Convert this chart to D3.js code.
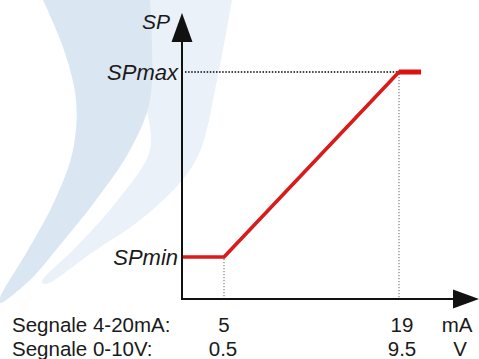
<!DOCTYPE html>
<html>
<head>
<meta charset="utf-8">
<script src="https://cdn.jsdelivr.net/npm/d3@7/dist/d3.min.js"></script>
<style>
  html, body { margin: 0; padding: 0; background: #fff; }
  svg { display: block; }
  text { font-family: Arial, "Liberation Sans", sans-serif; fill: #1a1a1a; }
</style>
</head>
<body>
<svg id="chart" width="479" height="359"></svg>
<script>
// ---- data ----
const curveMA = [1.64, 5, 19, 20.76];    // signal (mA) at the curve's corners
const curveSP = [0, 0, 1, 1];            // set-point (0 = SPmin, 1 = SPmax)
const tickMA = [5, 19];
const tickV = ["0.5", "9.5"];
const spLabels = ["SPmin", "SPmax"];
const spValues = [0, 1];
const rowLabels = ["Segnale 4-20mA:", "Segnale 0-10V:"];
const unitLabels = ["mA", "V"];
const axisTitle = "SP";

// ---- layout ----
const svg = d3.select("#chart");
const x = d3.scaleLinear().domain([1.64, 25.4]).range([182, 479]);
const y = d3.scaleLinear().domain([-0.227, 1.319]).range([299, 13]);

// background swoosh decoration
const bg = svg.append("g");
const swoosh = d3.line().curve(d3.curveCatmullRom.alpha(0.5));
const lightLeft = [[144,0],[146,100],[150,150],[118,200],[78,245],[42,282]];
const lightRight = [[46,284],[90,254],[150,212],[196,160],[217,80],[232,0]];
const darkOuter = [[43,0],[64,50],[76,100],[73,150],[55,200],[28,250],[0,298]];
const darkInner = [[0,303],[30,280],[60,245],[96,200],[130,150],[150,100],[150,0]];
bg.append("path").attr("d", swoosh(lightLeft.concat(lightRight)) + "Z")
  .attr("fill", "#ebf1f9");
bg.append("path").attr("d", swoosh(darkOuter.concat(darkInner)) + "Z")
  .attr("fill", "#dae6f2");

// dotted guides
const x0 = x.range()[0], y0 = y.range()[0];
svg.append("line")
  .attr("x1", x0 + 3).attr("x2", x(tickMA[1]))
  .attr("y1", y(spValues[1])).attr("y2", y(spValues[1]))
  .attr("stroke", "#000").attr("stroke-width", 1.4).attr("stroke-dasharray", "1.5,1.6");
tickMA.forEach((t, i) => {
  svg.append("line")
    .attr("x1", x(t)).attr("x2", x(t))
    .attr("y1", y(spValues[i]) + 2).attr("y2", y0 - 1)
    .attr("stroke", "#666").attr("stroke-width", 1).attr("stroke-dasharray", "1.2,1.8");
});

// curve
const pts = curveMA.map((m, i) => [x(m), y(curveSP[i])]);
svg.append("path")
  .attr("d", d3.line()(pts))
  .attr("fill", "none").attr("stroke", "#d81c1c")
  .attr("stroke-width", 3.6).attr("stroke-linejoin", "round");
svg.append("path")
  .attr("d", d3.line()(pts.slice(2)))
  .attr("fill", "none").attr("stroke", "#e01010").attr("stroke-width", 5);

// axes with arrows
svg.append("line").attr("x1", x0).attr("x2", x0).attr("y1", y0 + 1).attr("y2", 40)
  .attr("stroke", "#111").attr("stroke-width", 2);
svg.append("line").attr("x1", x0).attr("x2", 455).attr("y1", y0).attr("y2", y0)
  .attr("stroke", "#111").attr("stroke-width", 2);
svg.append("path").attr("d", `M${x0},${y.range()[1]} L${x0 + 10.5},42 L${x0 - 10.5},42 Z`)
  .attr("fill", "#111");
svg.append("path").attr("d", `M${x.range()[1]},${y0} L453,${y0 - 9.5} L453,${y0 + 9.5} Z`)
  .attr("fill", "#111");

// labels
svg.append("text").attr("x", 170).attr("y", 29).attr("text-anchor", "end")
  .attr("font-size", 21).attr("font-style", "italic").text(axisTitle);
spLabels.forEach((l, i) => {
  svg.append("text").attr("x", 178).attr("y", y(spValues[i]) + 8)
    .attr("text-anchor", "end").attr("font-size", 22).attr("font-style", "italic")
    .attr("fill", "#2a2a2a").text(l);
});

const rowY = [332, 356];
rowLabels.forEach((l, i) => {
  svg.append("text").attr("x", 12).attr("y", rowY[i]).attr("font-size", 20.5).text(l);
});
tickMA.forEach((t, i) => {
  svg.append("text").attr("x", x(t) + (i ? 3 : 0)).attr("y", rowY[0])
    .attr("text-anchor", "middle").attr("font-size", 20.5).text(t);
  svg.append("text").attr("x", x(t) + (i ? 3 : -1)).attr("y", rowY[1])
    .attr("text-anchor", "middle").attr("font-size", 20.5).text(tickV[i]);
});
unitLabels.forEach((u, i) => {
  svg.append("text").attr("x", i ? 460 : 457).attr("y", rowY[i])
    .attr("text-anchor", "middle").attr("font-size", 20.5).text(u);
});
</script>
</body>
</html>
